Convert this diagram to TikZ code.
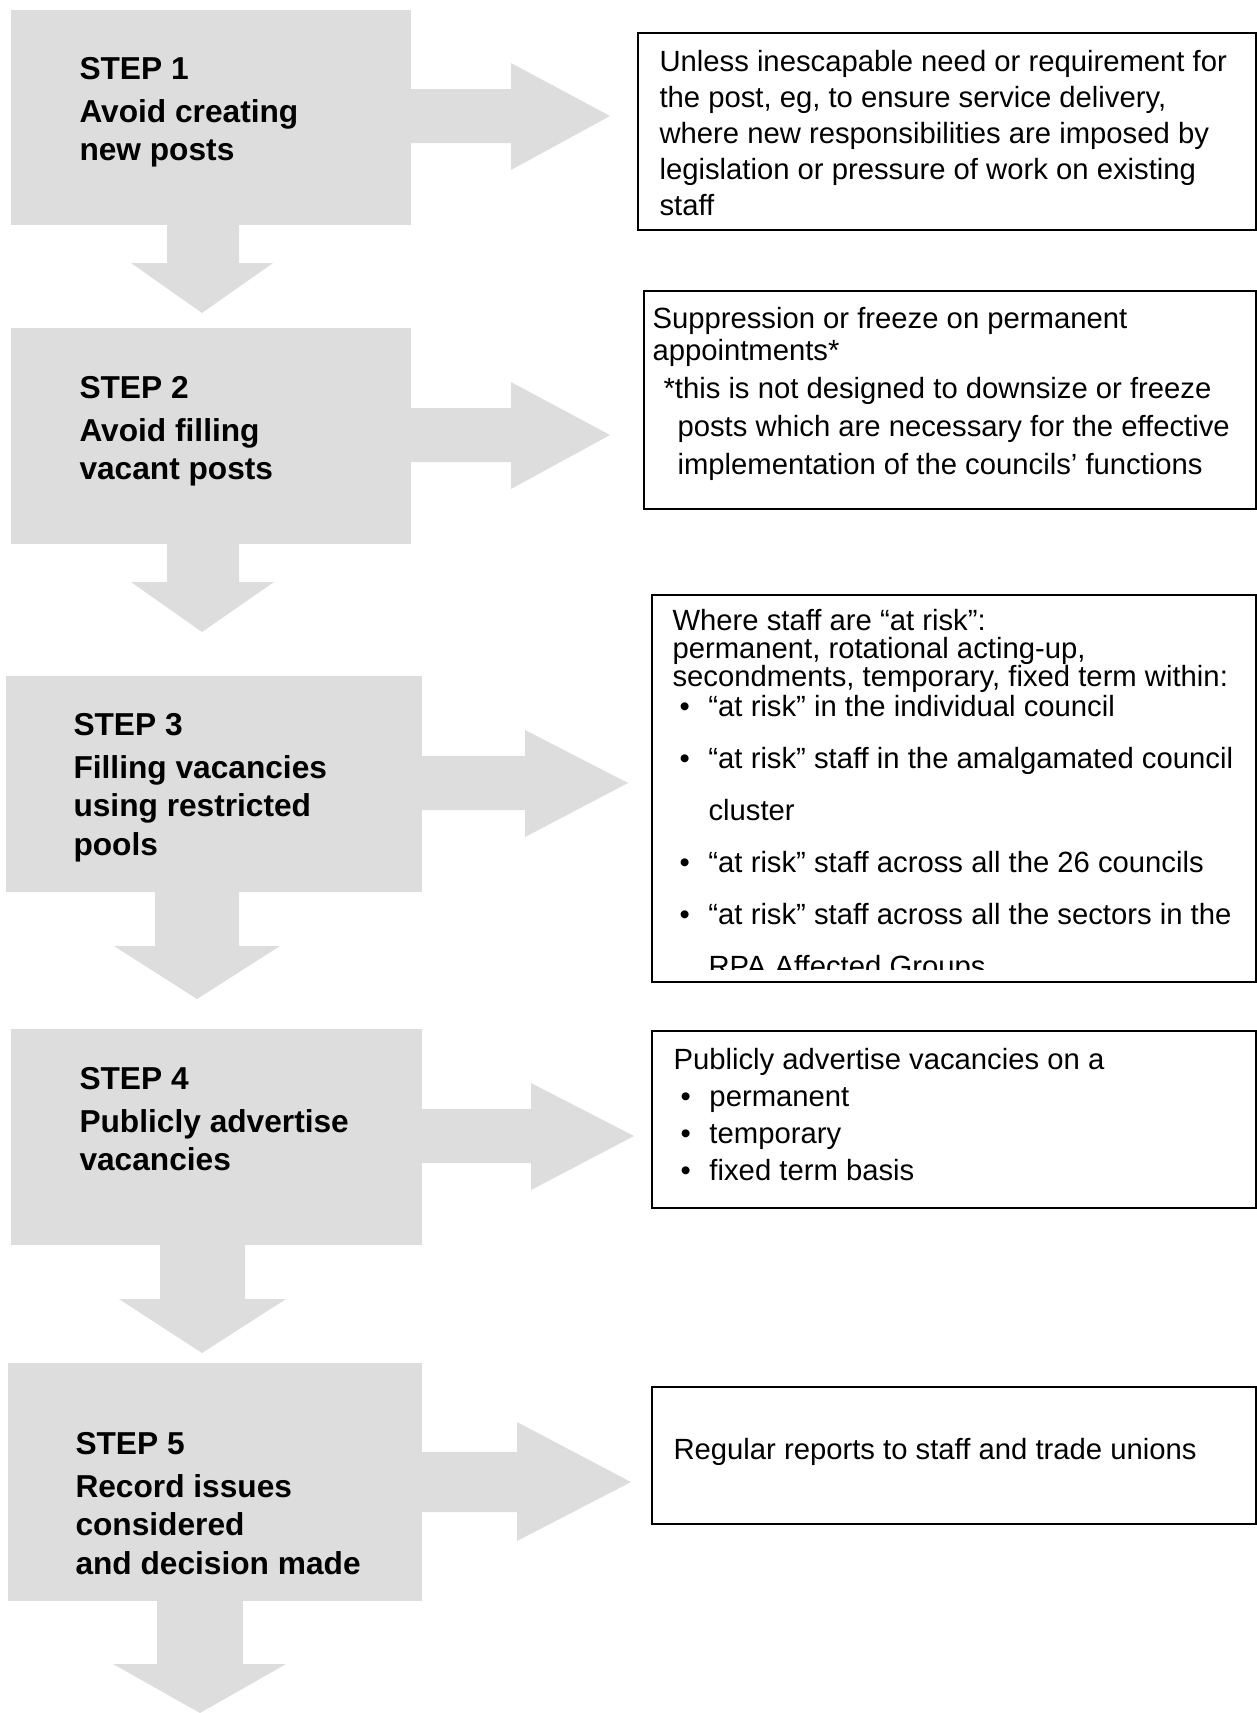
\documentclass[tikz,border=0pt]{standalone}
\usepackage{fontspec}
\setmainfont{Liberation Sans}
\usetikzlibrary{positioning}

\definecolor{stepgray}{RGB}{221,221,221}

\tikzset{
  stepbox/.style={fill=stepgray, inner sep=0pt, anchor=north west},
  steptext/.style={anchor=north west, inner sep=0pt, align=left,
    font=\fontsize{12.67pt}{15.4pt}\selectfont\bfseries},
  notebox/.style={draw=black, line width=0.6pt, inner sep=0pt, anchor=north west},
  notetext/.style={anchor=north west, inner sep=0pt, align=left,
    font=\fontsize{11.7pt}{14.4pt}\selectfont},
  blockarrow/.style={fill=stepgray}
}

\newcommand{\blt}{\makebox[14.4pt][l]{\hspace*{2.8pt}\textbullet}}

\begin{document}
\begin{tikzpicture}[x=0.4pt, y=-0.4pt]
        \useasboundingbox (0,0) rectangle (1257,1713);

        % grey steps
        \node[stepbox, minimum width=160pt, minimum height=86pt] (s1) at (10,9) {};
        \node[stepbox, minimum width=160pt, minimum height=86.4pt] (s2) at (10,327) {};
        \node[stepbox, minimum width=166.4pt, minimum height=86.4pt] (s3) at (5,675) {};
        \node[stepbox, minimum width=164.4pt, minimum height=86.4pt] (s4) at (10,1028) {};
        \node[stepbox, minimum width=165.6pt, minimum height=95.2pt] (s5) at (7,1362) {};

        % block arrows to the right
        \fill[blockarrow] (400,89) -- (511,89) -- (511,63) -- (610,116) -- (511,170) -- (511,143) -- (400,143) -- cycle;
        \fill[blockarrow] (400,408) -- (511,408) -- (511,382) -- (610,435) -- (511,489) -- (511,462) -- (400,462) -- cycle;
        \fill[blockarrow] (410,756) -- (525,756) -- (525,730) -- (628,783) -- (525,837) -- (525,810) -- (410,810) -- cycle;
        \fill[blockarrow] (410,1109) -- (531,1109) -- (531,1083) -- (634,1136) -- (531,1190) -- (531,1163) -- (410,1163) -- cycle;
        \fill[blockarrow] (410,1452) -- (517,1452) -- (517,1422) -- (631,1482) -- (517,1541) -- (517,1512) -- (410,1512) -- cycle;

        % block arrows downwards
        \fill[blockarrow] (167,220) -- (167,263) -- (131,263) -- (202,313) -- (273,263) -- (239,263) -- (239,220) -- cycle;
        \fill[blockarrow] (167,540) -- (167,582) -- (131,582) -- (202,632) -- (274,582) -- (239,582) -- (239,540) -- cycle;
        \fill[blockarrow] (155,888) -- (155,946) -- (114,946) -- (197,999) -- (280,946) -- (239,946) -- (239,888) -- cycle;
        \fill[blockarrow] (160,1240) -- (160,1299) -- (119,1299) -- (202,1353) -- (286,1299) -- (245,1299) -- (245,1240) -- cycle;
        \fill[blockarrow] (157,1596) -- (157,1664) -- (113,1664) -- (200,1713) -- (286,1664) -- (243,1664) -- (243,1596) -- cycle;

        % step labels
        \node[steptext] (l1) at ([shift={(69,43)}]s1.north west) {\strut STEP 1\\[1.8pt] Avoid creating\\ new posts};
        \node[steptext] (l2) at ([shift={(69,44)}]s2.north west) {\strut STEP 2\\[1.8pt] Avoid filling\\ vacant posts};
        \node[steptext] (l3) at ([shift={(68,33)}]s3.north west) {\strut STEP 3\\[1.8pt] Filling vacancies\\ using restricted\\ pools};
        \node[steptext] (l4) at ([shift={(69,34)}]s4.north west) {\strut STEP 4\\[1.8pt] Publicly advertise\\ vacancies};
        \node[steptext] (l5) at ([shift={(68,65)}]s5.north west) {\strut STEP 5\\[1.8pt] Record issues\\ considered\\ and decision made};

        % notes on the right
        \node[notebox, minimum width=247.2pt, minimum height=78.8pt] (b1) at (637,32) {};
        \node[notetext] (t1) at ([shift={(22,14)}]b1.north west)
          {\strut Unless inescapable need or requirement for\\ the post, eg, to ensure service delivery,\\
           where new responsibilities are imposed by\\ legislation or pressure of work on existing\\ staff};

        \node[notebox, minimum width=244.8pt, minimum height=87.2pt] (b2) at (643,290) {};
        \node[notetext] (t2) at ([shift={(9,13)}]b2.north west)
          {\strut Suppression or freeze on permanent\\[-1.7pt] appointments*\\[0.8pt]
           \hspace*{4.4pt}*this is not designed to downsize or freeze\\[0.8pt]
           \hspace*{10pt}posts which are necessary for the effective\\[0.8pt]
           \hspace*{10pt}implementation of the councils’ functions};

        \begin{scope}
          \clip (651,594) rectangle (1255,969);
          \node[notetext] (t3) at (672,605)
            {\strut Where staff are “at risk”:\\[-3.2pt] permanent, rotational acting-up,\\[-3.2pt]
             secondments, temporary, fixed term within:\\[-2.4pt]
             \blt “at risk” in the individual council\\[6.4pt]
             \blt “at risk” staff in the amalgamated council\\[6.4pt]
             \hspace*{14.4pt}cluster\\[6.4pt]
             \blt “at risk” staff across all the 26 councils\\[6.4pt]
             \blt “at risk” staff across all the sectors in the\\[6.4pt]
             \hspace*{14.4pt}RPA Affected Groups};
        \end{scope}
        \node[notebox, minimum width=241.6pt, minimum height=154.8pt] (b3) at (651,594) {};

        \node[notebox, minimum width=241.6pt, minimum height=70.8pt] (b4) at (651,1030) {};
        \node[notetext] (t4) at ([shift={(22,14)}]b4.north west)
          {\strut Publicly advertise vacancies on a\\[0.4pt] \blt permanent\\[0.4pt] \blt temporary\\[0.4pt] \blt fixed term basis};

        \node[notebox, minimum width=241.6pt, minimum height=54.8pt] (b5) at (651,1386) {};
        \node[notetext] (t5) at ([shift={(22,48)}]b5.north west) {\strut Regular reports to staff and trade unions};
\end{tikzpicture}
\end{document}
